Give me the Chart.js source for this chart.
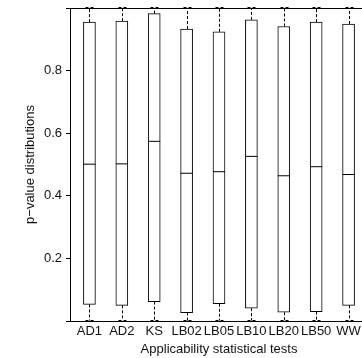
<!DOCTYPE html>
<html lang="en">
<head>
  <meta charset="UTF-8">
  <title>p-value distributions</title>
  <script src="https://cdn.jsdelivr.net/npm/chart.js"></script>
  <style>
    html, body { margin: 0; padding: 0; background: #fff; overflow: hidden; }
    #chartBox { display: block; }
  </style>
</head>
<body>

<canvas id="chartBox" width="375" height="358"></canvas>

<script>
  // === Data ===
  const tests = ["AD1", "AD2", "KS", "LB02", "LB05", "LB10", "LB20", "LB50", "WW"];
  const whiskerLow  = [0, 0, 0, 0, 0, 0, 0, 0, 0];
  const q1          = [0.053, 0.050, 0.062, 0.027, 0.055, 0.041, 0.028, 0.030, 0.050];
  const median      = [0.501, 0.502, 0.574, 0.472, 0.477, 0.526, 0.464, 0.493, 0.468];
  const q3          = [0.955, 0.958, 0.982, 0.933, 0.924, 0.962, 0.941, 0.955, 0.949];
  const whiskerHigh = [1, 1, 1, 1, 1, 1, 1, 1, 1];
  const yTicks = [0, 0.2, 0.4, 0.6, 0.8, 1];

  Chart.defaults.font.family = "'Liberation Sans', Arial, sans-serif";
  Chart.defaults.font.size = 13;
  Chart.defaults.color = "#111";

  // dashed whiskers + caps, drawn under the boxes
  const whiskers = {
    id: "whiskers",
    beforeDatasetsDraw(chart) {
      const { ctx, scales: { x, y } } = chart;
      ctx.save();
      ctx.strokeStyle = "#000";
      ctx.lineWidth = 1;
      ctx.setLineDash([3, 2]);
      tests.forEach((t, i) => {
        const px = Math.round(x.getPixelForValue(i + 1)) + 0.5;
        const hi = Math.round(y.getPixelForValue(whiskerHigh[i])) + 0.5;
        const lo = Math.round(y.getPixelForValue(whiskerLow[i])) - 0.5;
        ctx.beginPath();
        ctx.moveTo(px, y.getPixelForValue(q3[i]));
        ctx.lineTo(px, hi);
        ctx.moveTo(px, y.getPixelForValue(q1[i]));
        ctx.lineTo(px, lo);
        ctx.moveTo(px - 4, hi - 1);
        ctx.lineTo(px + 4, hi - 1);
        ctx.moveTo(px - 4, lo);
        ctx.lineTo(px + 4, lo);
        ctx.stroke();
      });
      ctx.restore();
    }
  };

  new Chart(document.getElementById("chartBox"), {
    type: "bar",
    data: {
      datasets: [
        {
          label: "Median",
          type: "line",
          data: tests.map((t, i) => ({ x: i + 1, y: median[i] })),
          showLine: false,
          pointStyle: "line",
          pointRadius: 6,
          pointHoverRadius: 6,
          borderColor: "#000",
          borderWidth: 1,
          order: 0
        },
        {
          label: "Box",
          data: tests.map((t, i) => ({ x: i + 1, y: [q1[i], q3[i]] })),
          backgroundColor: "#fff",
          borderColor: "#000",
          borderWidth: 1,
          borderSkipped: false,
          barThickness: 12,
          order: 1
        }
      ]
    },
    options: {
      responsive: false,
      animation: false,
      layout: { padding: { top: 8, right: 0, left: 0, bottom: 0 } },
      plugins: {
        legend: { display: false },
        tooltip: { enabled: false }
      },
      scales: {
        x: {
          type: "linear",
          offset: false,
          min: 0.4,
          max: 9.6,
          afterBuildTicks: (s) => { s.ticks = tests.map((t, i) => ({ value: i + 1 })); },
          afterFit: (s) => { s.height = 37; s.paddingLeft = 0; s.paddingRight = 0; },
          ticks: {
            autoSkip: false,
            maxRotation: 0,
            padding: 3,
            color: "#111",
            callback: (v) => tests[v - 1]
          },
          grid: { display: false, drawTicks: false },
          border: { display: true, color: "#000", width: 1 },
          title: {
            display: true,
            text: "Applicability statistical tests",
            color: "#111",
            padding: { top: 0, bottom: 1 }
          }
        },
        y: {
          min: 0,
          max: 1,
          afterBuildTicks: (s) => { s.ticks = yTicks.map(v => ({ value: v })); },
          afterFit: (s) => { s.width = 70; s.paddingTop = 0; s.paddingBottom = 0; },
          ticks: {
            padding: 4,
            color: "#111",
            callback: (v) => (v > 0 && v < 1 ? v.toFixed(1) : "")
          },
          grid: {
            drawOnChartArea: true,
            tickLength: 4,
            tickColor: "#000",
            color: (c) => (c.tick && c.tick.value === 1 ? "#000" : "rgba(0,0,0,0)")
          },
          border: { display: true, color: "#000", width: 1 },
          title: {
            display: true,
            text: "p\u2212value distributions",
            color: "#111",
            padding: { top: 23, bottom: 0 }
          }
        }
      }
    },
    plugins: [whiskers]
  });
</script>

</body>
</html>
